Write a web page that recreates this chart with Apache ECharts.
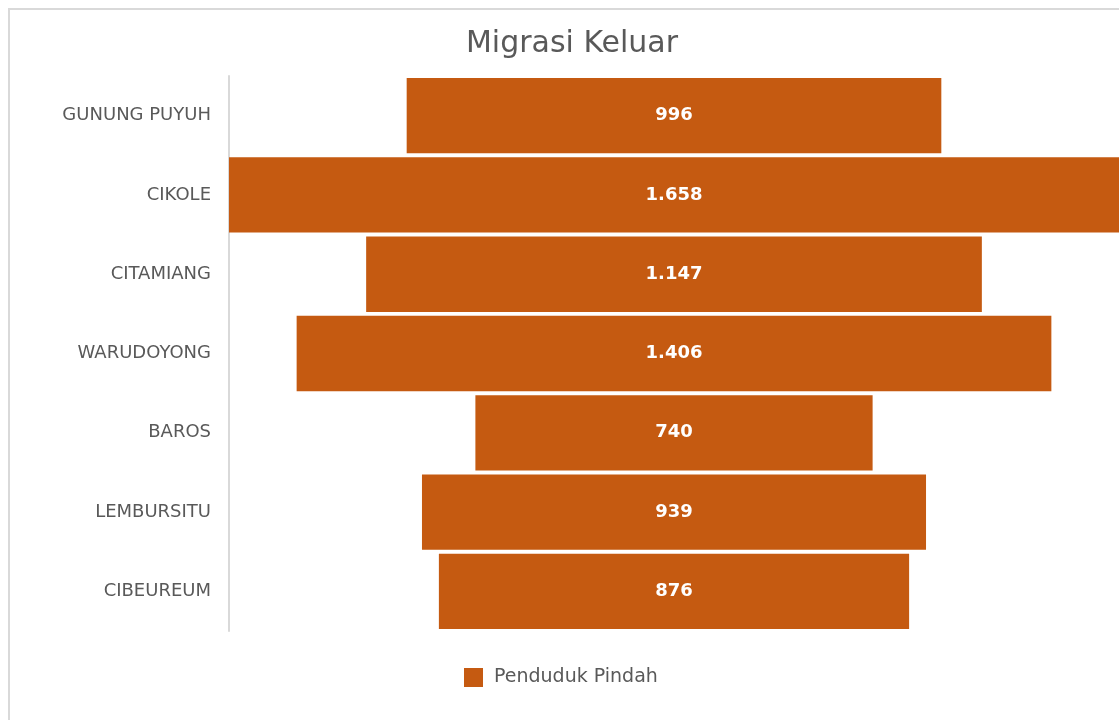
<!DOCTYPE html>
<html>
<head>
<meta charset="utf-8">
<script src="https://cdn.jsdelivr.net/npm/echarts@6/dist/echarts.min.js"></script>
<style>
  html, body { margin: 0; padding: 0; background: #fff; overflow: hidden; }
  #frame {
    position: absolute; left: 8px; top: 8px;
    width: 1130px; height: 730px;
    border: 2px solid #d9d9d9; box-sizing: border-box;
  }
  #chart { position: absolute; left: 0; top: 0; width: 1119px; height: 720px; }
</style>
</head>
<body>
<div id="frame"></div>
<div id="chart"></div>
<script>
// kelurahan (dari atas ke bawah)
var categories = ['GUNUNG PUYUH', 'CIKOLE', 'CITAMIANG', 'WARUDOYONG', 'BAROS', 'LEMBURSITU', 'CIBEUREUM'];
// penduduk pindah
var values = [996, 1658, 1147, 1406, 740, 939, 876];
var seriesName = 'Penduduk Pindah';

var barColor = '#c55a11';
var textColor = '#595959';
var fontFam = '"DejaVu Sans", sans-serif';

var maxVal = Math.max.apply(null, values);
// offset transparan supaya batang berada di tengah
var offsets = values.map(function (v) { return (maxVal - v) / 2; });

function fmt(v) {
  return String(v).replace(/\B(?=(\d{3})+(?!\d))/g, '.');
}

var chart = echarts.init(document.getElementById('chart'));
chart.setOption({
  animation: false,
  title: {
    text: 'Migrasi Keluar',
    left: 572, top: 29, textAlign: 'center', padding: 0,
    textStyle: { color: textColor, fontSize: 30, fontWeight: 'normal', fontFamily: fontFam }
  },
  legend: {
    data: [seriesName],
    left: 464, top: 668, padding: 0,
    itemWidth: 19, itemHeight: 19, itemGap: 11,
    icon: 'rect',
    textStyle: { color: textColor, fontSize: 19, fontFamily: fontFam, padding: [0, 0, 0, 6] }
  },
  grid: { left: 229, top: 76, width: 890, height: 555 },
  xAxis: {
    type: 'value', min: 0, max: maxVal, show: false
  },
  yAxis: {
    type: 'category',
    data: categories,
    inverse: true,
    axisLine: { show: true, lineStyle: { color: '#d9d9d9', width: 2 } },
    axisTick: { show: false },
    axisLabel: { color: textColor, fontSize: 18, fontFamily: fontFam, margin: 18 }
  },
  series: [
    {
      name: 'offset', type: 'bar', stack: 'x',
      data: offsets,
      itemStyle: { color: 'transparent' },
      silent: true
    },
    {
      name: seriesName, type: 'bar', stack: 'x',
      data: values,
      barCategoryGap: '5%',
      itemStyle: { color: barColor },
      label: {
        show: true, position: 'inside',
        color: '#fff', fontSize: 18, fontWeight: 'bold', fontFamily: fontFam,
        formatter: function (p) { return fmt(p.value); }
      }
    }
  ]
});
</script>
</body>
</html>
